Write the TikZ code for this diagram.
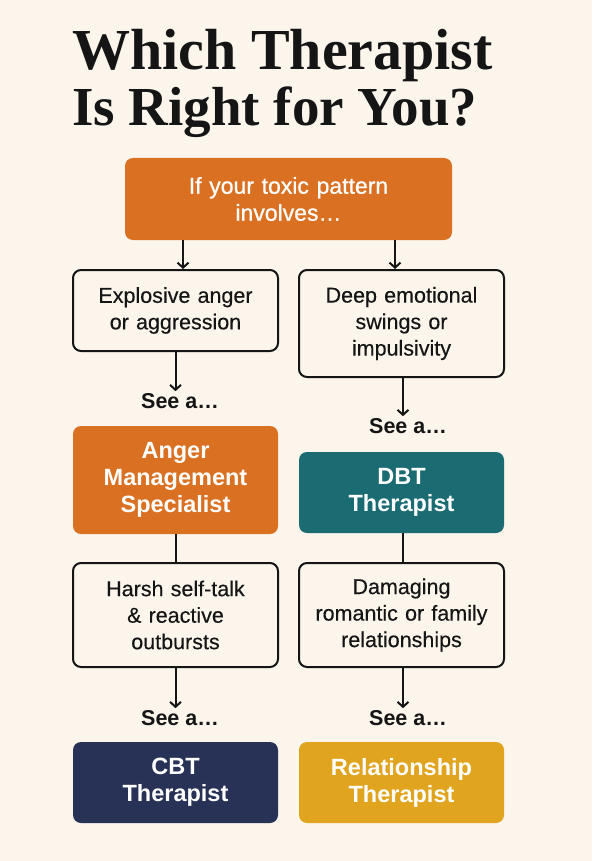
\documentclass[tikz,border=0pt]{standalone}
\usepackage{fontspec}
\setmainfont{Liberation Sans}
\newfontfamily\medfont[FakeBold=0.8]{Liberation Sans}
\newfontfamily\bodyfont[FakeBold=0.3]{Liberation Sans}
\newfontfamily\titlefont{Liberation Serif}
\usetikzlibrary{arrows.meta}
\definecolor{bg}{HTML}{FCF5EC}
\definecolor{ink}{HTML}{151515}
\definecolor{orng}{HTML}{DA7022}
\definecolor{teal}{HTML}{1B6B72}
\definecolor{navy}{HTML}{283257}
\definecolor{gold}{HTML}{E0A41E}
\tikzset{
  base/.style={rounded corners=8pt, minimum width=205pt, align=center, text width=195pt, inner sep=0pt},
  qbox/.style={base, draw=ink, line width=2pt, fill=bg, text=ink, font=\bodyfont\fontsize{21.5}{26.5}\selectfont},
  tbox/.style={base, fill=#1, text=white, font=\bfseries\fontsize{23.5}{27}\selectfont},
  seelbl/.style={text=ink, font=\bfseries\fontsize{21.5}{24}\selectfont, inner sep=2pt},
  arr/.style={draw=ink, line width=2pt, -{Straight Barb[length=5pt,width=11pt,line width=2pt]}},
  lnk/.style={draw=ink, line width=2pt},
  ttl/.style={anchor=base west, text=ink, inner sep=0pt, font=\titlefont\bfseries\fontsize{58}{58}\selectfont}
}
\begin{document}
\begin{tikzpicture}[x=1pt,y=-1pt]
\fill[bg] (0,0) rectangle (592,861);
\useasboundingbox (0,0) rectangle (592,861);

\node[ttl] (t1) at (72,70) {Which Therapist};
\node[ttl, font=\titlefont\bfseries\fontsize{55}{55}\selectfont] (t2) at (72,126) {Is Right for You?};

\node[base, fill=orng, text=white, minimum width=327pt, minimum height=82pt, text width=310pt,
      font=\medfont\fontsize{23}{27}\selectfont] (top) at (288.5,199) {If your toxic pattern\\involves\ldots};

\node[qbox, minimum height=81pt] (l1) at (175.5,310.5) {Explosive anger\\or aggression};
\node[qbox, minimum height=107pt] (r1) at (401.5,323.5) {Deep emotional\\swings or\\impulsivity};

\node[seelbl] (see1) at (180,401) {See a\ldots};
\node[seelbl] (see2) at (408,426) {See a\ldots};

\node[tbox=orng, minimum height=108pt] (anger) at (175.5,480) {Anger\\Management\\Specialist};
\node[tbox=teal, minimum height=81pt] (dbt) at (401.5,492.5) {DBT\\Therapist};

\node[qbox, minimum height=104pt] (l2) at (175.5,615) {Harsh self-talk\\\& reactive\\outbursts};
\node[qbox, minimum height=104pt] (r2) at (401.5,615) {Damaging\\romantic or family\\relationships};

\node[seelbl] (see3) at (180,718) {See a\ldots};
\node[seelbl] (see4) at (408,718) {See a\ldots};

\node[tbox=navy, minimum height=81pt] (cbt) at (175.5,782.5) {CBT\\Therapist};
\node[tbox=gold, minimum height=81pt] (rel) at (401.5,782.5) {Relationship\\Therapist};

\coordinate (a1) at (183,240);
\coordinate (a2) at (395,240);
\draw[arr] (a1) -- (a1 |- l1.north);
\draw[arr] (a2) -- (a2 |- r1.north);

\draw[arr] (l1.south) -- (l1.south |- see1.north);
\draw[arr] ([xshift=1.5pt]r1.south) -- ([xshift=1.5pt]r1.south |- see2.north);
\draw[lnk] (anger.south) -- (l2.north);
\draw[lnk] ([xshift=1.5pt]dbt.south) -- ([xshift=1.5pt]r2.north);
\draw[arr] (l2.south) -- (l2.south |- see3.north);
\draw[arr] ([xshift=1.5pt]r2.south) -- ([xshift=1.5pt]r2.south |- see4.north);
\end{tikzpicture}
\end{document}
